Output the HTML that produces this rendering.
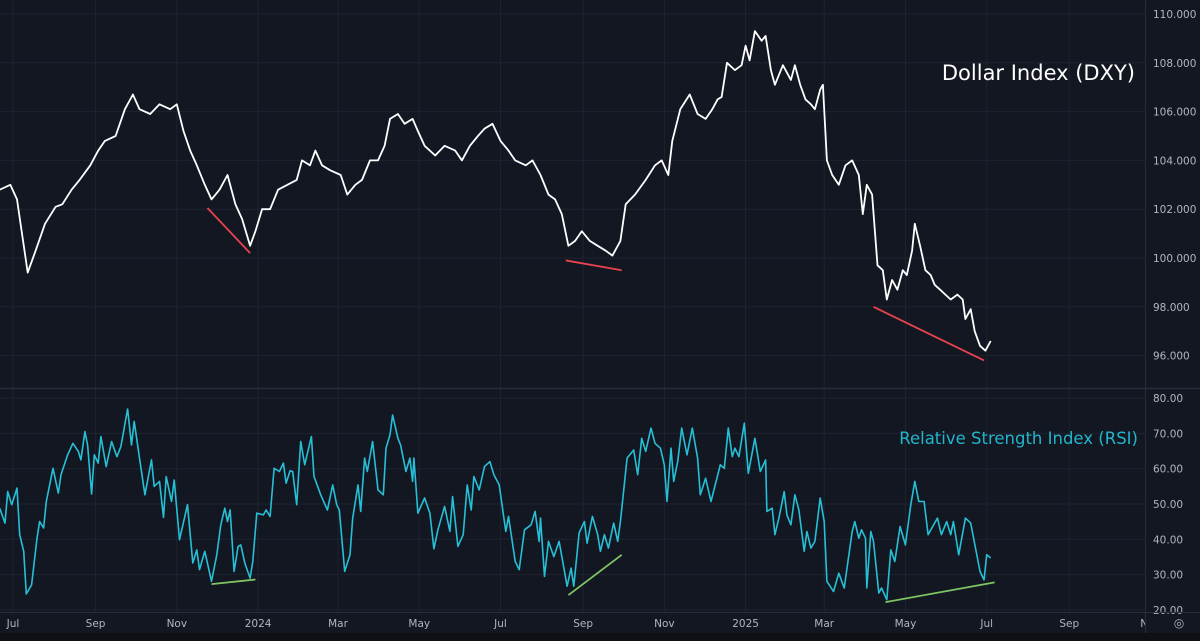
<!DOCTYPE html>
<html><head><meta charset="utf-8">
<style>
html,body{margin:0;padding:0;background:#131722;}
body{width:1200px;height:641px;overflow:hidden;font-family:"Liberation Sans",sans-serif;}
svg{display:block}
</style></head>
<body>
<svg id="chart" width="1200" height="641" xmlns="http://www.w3.org/2000/svg">
<defs><clipPath id="plotclip"><rect x="0" y="0" width="1145" height="641"/></clipPath></defs>
<rect x="0" y="0" width="1200" height="641" fill="#131722"/>
<g id="grid" clip-path="url(#plotclip)"></g>
<g id="marks"></g>
<g id="timeaxis" clip-path="url(#plotclip)"></g>
<g id="axes"></g>
<text x="1135" y="80" text-anchor="end" fill="#ffffff" font-size="21" font-family="DejaVu Sans, Liberation Sans, sans-serif">Dollar Index (DXY)</text>
<text x="1138" y="444" text-anchor="end" fill="#22b5cc" font-size="16.5" font-family="DejaVu Sans, Liberation Sans, sans-serif">Relative Strength Index (RSI)</text>
</svg>
<script>
// day offsets from 2023-07-01
const dxyDays=[-10,-2,3,11,17,24,32,37,44,50,58,64,69,77,84,90,95,103,110,118,123,128,133,138,144,149,155,161,167,172,178,182,187,193,199,206,213,217,223,227,232,238,246,251,257,262,268,274,279,283,289,294,300,304,309,317,324,332,337,343,349,354,360,366,372,377,385,390,396,402,407,412,417,422,427,433,439,445,450,456,460,467,475,482,487,492,495,501,508,514,520,525,529,532,536,542,547,550,553,557,562,565,569,572,578,584,587,591,595,599,602,606,608,611,615,620,625,630,635,638,641,645,649,653,656,660,664,668,671,675,677,681,685,689,692,696,700,704,709,713,715,719,722,726,730,734];
const dxyValues=[102.8,103.0,102.4,99.4,100.3,101.4,102.1,102.2,102.8,103.2,103.8,104.4,104.8,105.0,106.1,106.7,106.1,105.9,106.3,106.1,106.3,105.2,104.4,103.8,103.0,102.4,102.8,103.4,102.2,101.6,100.5,101.1,102.0,102.0,102.8,103.0,103.2,104.0,103.8,104.4,103.8,103.6,103.4,102.6,103.0,103.2,104.0,104.0,104.6,105.7,105.9,105.5,105.7,105.2,104.6,104.2,104.6,104.4,104.0,104.6,105.0,105.3,105.5,104.8,104.4,104.0,103.8,104.0,103.4,102.6,102.4,101.8,100.5,100.7,101.1,100.7,100.5,100.3,100.1,100.7,102.2,102.6,103.2,103.8,104.0,103.4,104.8,106.1,106.7,105.9,105.7,106.1,106.5,106.6,108.0,107.7,107.9,108.7,108.1,109.3,108.9,109.1,107.7,107.1,107.9,107.3,107.9,107.1,106.5,106.3,106.1,106.9,107.1,104.0,103.4,103.0,103.8,104.0,103.4,101.8,103.0,102.6,99.7,99.5,98.3,99.1,98.7,99.5,99.3,100.3,101.4,100.5,99.5,99.3,98.9,98.7,98.5,98.3,98.5,98.3,97.5,97.9,97.0,96.4,96.2,96.6];
const rsiDays=[-10,-6,-4,-1,3,5,8,10,14,18,20,23,25,30,34,36,41,45,49,51,54,56,59,61,64,66,70,74,78,81,86,89,91,95,99,104,106,110,113,115,119,121,125,131,135,138,140,144,149,153,156,159,161,163,166,169,171,174,178,180,183,188,190,193,196,200,203,205,208,210,213,216,219,224,226,231,236,240,243,245,249,253,255,259,261,264,266,270,274,278,280,283,285,289,291,295,298,300,301,304,309,313,316,319,324,328,330,334,338,341,344,346,350,354,358,361,365,370,372,377,380,384,389,392,395,396,399,402,406,410,416,419,421,425,429,431,435,439,441,444,447,451,454,456,461,466,469,472,475,479,482,486,489,491,494,496,499,502,506,510,514,516,520,524,531,534,537,540,542,545,549,552,557,561,565,566,570,572,575,579,581,584,587,590,594,596,599,602,606,609,611,616,620,624,630,632,635,637,640,641,644,646,650,652,656,659,662,666,670,674,677,680,684,687,694,697,701,704,706,710,715,719,726,729,731,734];
const rsiValues=[48.8,44.6,53.5,49.8,54.5,41.3,36.6,24.5,27.1,40.3,45.0,43.2,50.7,60.1,53.1,58.3,63.9,67.2,64.9,62.5,70.5,66.7,52.8,63.9,61.6,69.1,60.6,67.7,63.4,66.3,76.9,66.7,73.4,63.0,52.6,62.5,55.0,56.4,46.2,57.8,50.7,56.8,39.9,49.8,33.3,37.0,31.4,36.6,28.1,35.6,44.1,48.8,45.0,48.3,30.9,38.0,38.4,33.3,29.0,33.7,47.4,46.9,48.3,46.5,60.1,59.2,61.6,55.9,59.4,59.2,49.8,67.7,61.1,69.1,57.8,52.6,48.3,55.4,49.8,48.3,30.9,35.6,46.0,55.4,47.9,63.0,59.2,67.7,54.0,52.6,65.8,69.6,75.2,68.6,66.7,59.2,63.0,56.4,63.0,47.4,51.7,47.4,37.3,42.7,49.3,42.2,52.1,38.0,41.3,55.4,48.3,57.8,54.0,60.6,62.0,58.3,55.4,42.2,46.5,33.7,31.4,42.7,44.1,47.9,39.4,46.0,29.5,39.4,35.1,39.4,26.7,31.8,26.7,41.8,45.0,38.9,46.5,41.3,36.6,41.3,37.5,44.6,39.4,45.0,63.0,65.3,58.3,68.6,64.9,71.5,67.2,65.8,61.1,50.7,65.8,56.4,62.0,71.5,63.9,71.5,63.0,52.6,57.3,50.7,61.1,60.1,71.5,63.4,65.8,63.4,72.9,58.7,68.6,59.2,62.5,47.9,48.8,41.3,46.0,53.5,46.9,44.1,52.6,48.3,36.6,42.2,37.5,39.4,51.7,45.0,28.1,25.2,30.4,26.2,42.2,45.0,40.3,42.7,40.3,26.2,42.2,39.4,24.8,26.2,22.9,37.0,33.7,43.6,38.4,49.8,56.4,50.7,50.7,41.3,46.0,41.3,45.0,41.3,45.0,35.6,46.0,44.6,30.9,28.5,35.6,34.7];
const dxyTicks=[110,108,106,104,102,100,98,96];
const rsiTicks=[80,70,60,50,40,30,20];
const monthLabels=["Jul","Sep","Nov","2024","Mar","May","Jul","Sep","Nov","2025","Mar","May","Jul","Sep","Nov"];
const monthDays=[0,62,123,184,244,305,366,428,489,550,609,670,731,793,854];
// trend lines: [day1,val1,day2,val2]
const redLines=[[146,102.05,178,100.2],[415,99.9,457,99.5],[646,98.0,729,95.8]];
const greenLines=[[149,27.3,182,28.6],[417,24.2,457,35.6],[655,22.2,737,27.8]];

const NS="http://www.w3.org/2000/svg";
const xS=d=>13+d*1.332;
const yD=v=>258-(v-100)*24.4;
const yR=v=>504-(v-50)*3.53;
const PW=1145;
function mk(tag,attrs,parent){const e=document.createElementNS(NS,tag);for(const k in attrs)e.setAttribute(k,attrs[k]);parent.appendChild(e);return e;}
const grid=document.getElementById('grid'),marks=document.getElementById('marks'),axes=document.getElementById('axes'),taxis=document.getElementById('timeaxis');

dxyTicks.forEach(v=>{
 const l=mk('line',{x1:0,x2:PW,y1:yD(v),y2:yD(v),stroke:'#1f2331','stroke-width':1},grid);
 
 
 const t=mk('text',{x:1153,y:yD(v)+4,fill:'#b2b5be','font-size':10.5,'font-family':'DejaVu Sans, Liberation Sans, sans-serif'},axes);
 t.textContent=v.toFixed(3);
 
 
});
rsiTicks.forEach(v=>{
 const l=mk('line',{x1:0,x2:PW,y1:yR(v),y2:yR(v),stroke:'#1f2331','stroke-width':1},grid);
 
 
 const t=mk('text',{x:1153,y:yR(v)+4,fill:'#b2b5be','font-size':10.5,'font-family':'DejaVu Sans, Liberation Sans, sans-serif'},axes);
 t.textContent=v.toFixed(2);
 
 
});
monthDays.forEach((d,i)=>{
 const x=xS(d);
 const l=mk('line',{x1:x,x2:x,y1:0,y2:612,stroke:'#1f2331','stroke-width':1},grid);
 
 
 const t=mk('text',{x:x,y:627,fill:'#b2b5be','font-size':10.5,'text-anchor':'middle','font-family':'DejaVu Sans, Liberation Sans, sans-serif'},taxis);
 t.textContent=monthLabels[i];
 
 
});
// pane borders
let b=mk('line',{x1:0,x2:1200,y1:388.5,y2:388.5,stroke:'#2a2e39','stroke-width':1.5},axes);


b=mk('line',{x1:PW+0.5,x2:PW+0.5,y1:0,y2:633,stroke:'#2a2e39','stroke-width':1},axes);


b=mk('line',{x1:0,x2:1200,y1:612.5,y2:612.5,stroke:'#2a2e39','stroke-width':1},axes);


b=mk('rect',{x:0,y:633,width:1200,height:8,fill:'#0e1016'},axes);


b=mk('text',{x:1179,y:627,fill:'#b2b5be','font-size':12,'text-anchor':'middle'},axes);
b.textContent='◎';



const dp=dxyDays.map((d,i)=>xS(d).toFixed(1)+','+yD(dxyValues[i]).toFixed(1)).join(' ');
const dl=mk('polyline',{points:dp,fill:'none',stroke:'#ffffff','stroke-width':1.8,'stroke-linejoin':'round'},marks);


const rp=rsiDays.map((d,i)=>xS(d).toFixed(1)+','+yR(rsiValues[i]).toFixed(1)).join(' ');
const rl=mk('polyline',{points:rp,fill:'none',stroke:'#26c0d6','stroke-width':1.6,'stroke-linejoin':'round'},marks);


redLines.forEach(r=>{
 const l=mk('line',{x1:xS(r[0]),y1:yD(r[1]),x2:xS(r[2]),y2:yD(r[3]),stroke:'#e8434f','stroke-width':1.8},marks);
 
 
});
greenLines.forEach(r=>{
 const l=mk('line',{x1:xS(r[0]),y1:yR(r[1]),x2:xS(r[2]),y2:yR(r[3]),stroke:'#7fc463','stroke-width':1.8},marks);
 
 
});
</script>
</body></html>
